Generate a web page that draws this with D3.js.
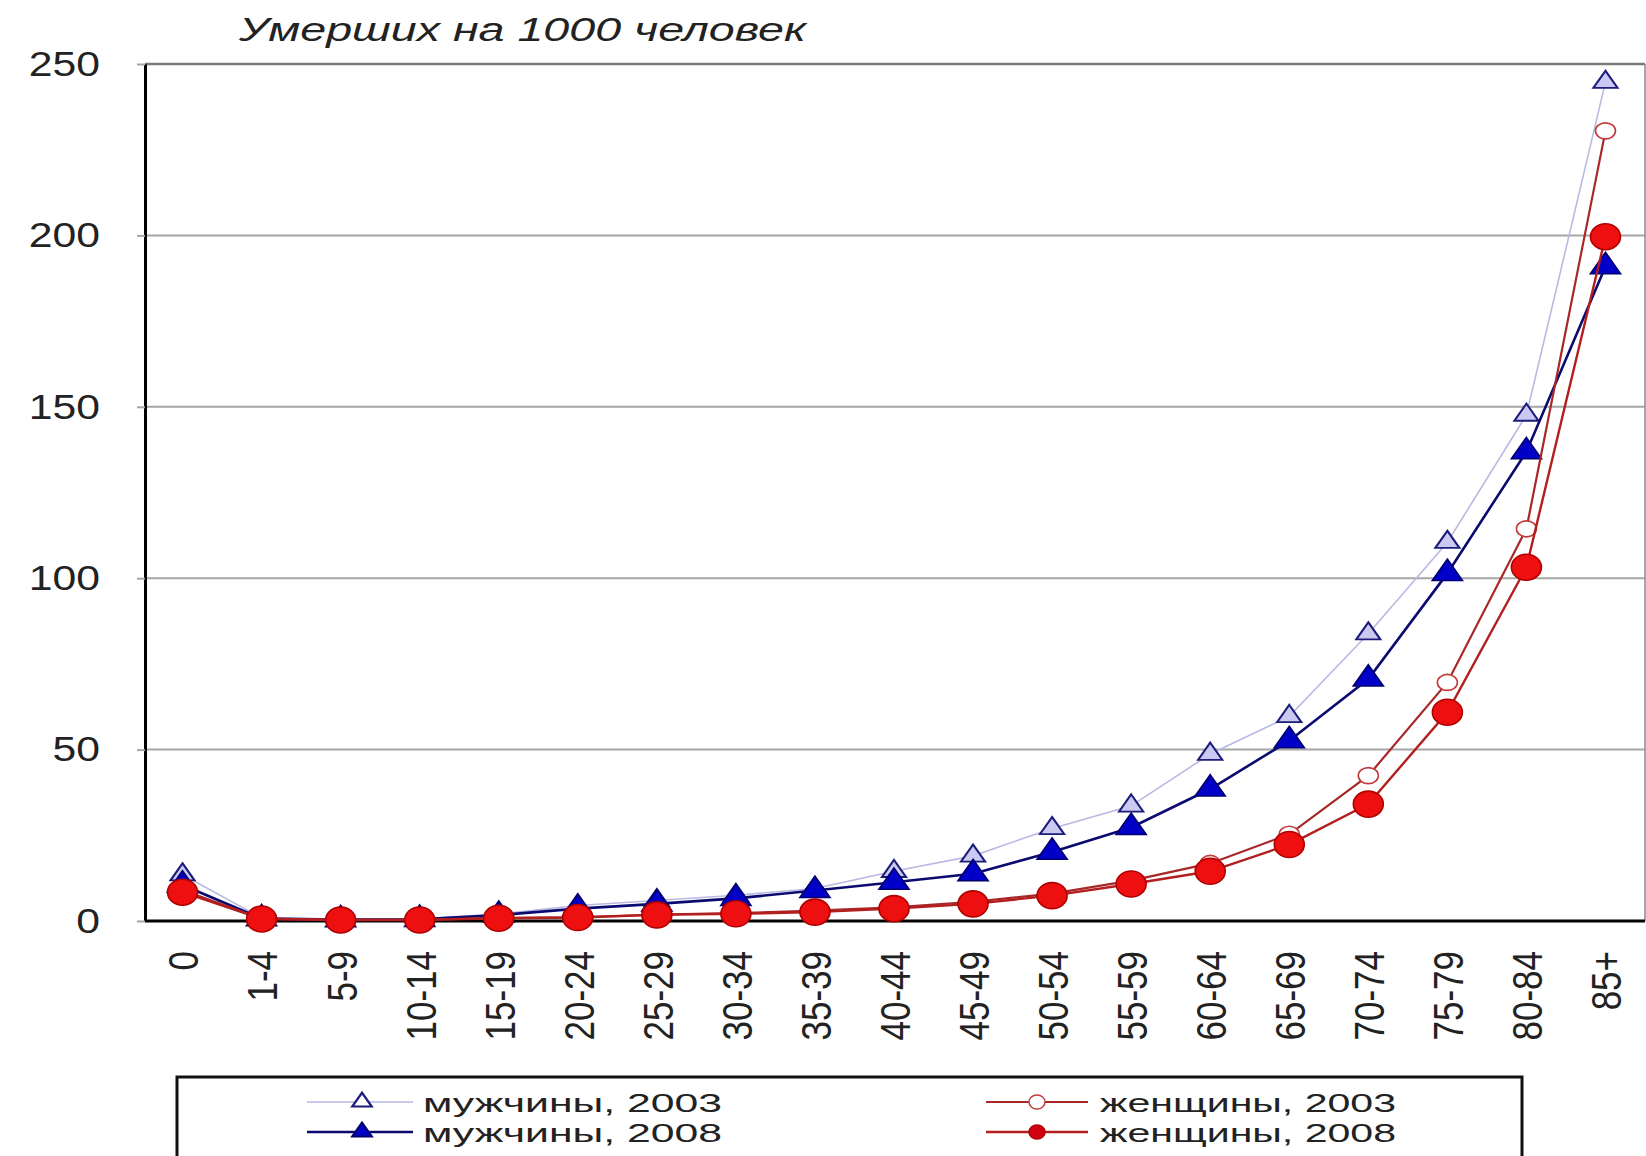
<!DOCTYPE html>
<html>
<head>
<meta charset="utf-8">
<script src="https://cdn.jsdelivr.net/npm/d3@7"></script>
<style>
  body { margin: 0; background: #fff; }
  svg text { font-family: "Liberation Sans", Arial, sans-serif; fill: #1a1a1a; }
</style>
</head>
<body>
<svg id="chart" width="1646" height="1156"></svg>
<script>
// Age groups and death rates per 1000 people
const ages = ["0","1-4","5-9","10-14","15-19","20-24","25-29","30-34","35-39","40-44",
              "45-49","50-54","55-59","60-64","65-69","70-74","75-79","80-84","85+"];
const men2003   = [13.5, 0.9, 0.5, 0.6, 2.0, 4.5, 6.0, 7.5, 9.5, 14.5, 19.0, 27.0, 33.6, 48.7, 59.7, 83.8, 110.5, 147.6, 244.7];
const men2008   = [10.5, 0.7, 0.4, 0.5, 1.7, 3.6, 5.0, 6.6, 8.9, 11.3, 13.8, 20.1, 27.3, 38.5, 52.6, 70.6, 101.4, 136.9, 190.9];
const women2003 = [9.0, 0.7, 0.3, 0.3, 0.9, 1.1, 1.9, 2.3, 3.0, 4.0, 5.6, 8.0, 11.8, 16.8, 25.3, 42.4, 69.6, 114.4, 230.5];
const women2008 = [8.4, 0.6, 0.3, 0.3, 0.8, 1.0, 1.8, 2.1, 2.6, 3.6, 5.0, 7.4, 10.8, 14.5, 22.3, 34.1, 60.9, 103.2, 199.6];
const yTicks = [0, 50, 100, 150, 200, 250];
const seriesNames = ["мужчины, 2003", "мужчины, 2008", "женщины, 2003", "женщины, 2008"];
const axisTitle = "Умерших на 1000 человек";

(function draw() {
const SX = 1.22; // horizontal glyph stretch used throughout the chart

const svg = d3.select("#chart");
const plotLeft = 145, plotRight = 1645, plotTop = 64, plotBottom = 921;

const x = d3.scalePoint().domain(ages).range([143, plotRight]).padding(0.5);
const y = d3.scaleLinear().domain([0, 250]).range([plotBottom, plotTop]);

// gridlines
svg.append("g").selectAll("line")
  .data(yTicks.filter(v => v > 0 && v < 250))
  .join("line")
  .attr("x1", plotLeft).attr("x2", plotRight)
  .attr("y1", d => y(d)).attr("y2", d => y(d))
  .attr("stroke", "#a6a6a6").attr("stroke-width", 2);

// plot frame: top and right edges
svg.append("line").attr("x1", plotLeft).attr("x2", plotRight).attr("y1", y(250)).attr("y2", y(250))
  .attr("stroke", "#7a7a7a").attr("stroke-width", 2.5);
svg.append("line").attr("x1", plotRight).attr("x2", plotRight).attr("y1", y(250)).attr("y2", plotBottom)
  .attr("stroke", "#8a8a8a").attr("stroke-width", 1.5);

// y axis
const yAxis = svg.append("g").attr("transform", `translate(${plotLeft},0)`)
  .call(d3.axisLeft(y).tickValues(yTicks).tickSize(8).tickSizeOuter(0));
yAxis.select(".domain").attr("stroke", "#000").attr("stroke-width", 3);
yAxis.selectAll(".tick line").attr("stroke", "#a6a6a6").attr("stroke-width", 2);
yAxis.selectAll(".tick text")
  .attr("x", -45 / SX).attr("dy", "0.32em")
  .attr("transform", `scale(${SX},1)`)
  .attr("font-size", 35).attr("text-anchor", "end")
  .style("font-family", "'Liberation Sans', Arial, sans-serif").style("fill", "#222");

// x axis
const xAxis = svg.append("g").attr("transform", `translate(0,${plotBottom})`)
  .call(d3.axisBottom(x).tickSize(0).tickSizeOuter(0));
xAxis.select(".domain").attr("stroke", "#000").attr("stroke-width", 3)
  .attr("d", `M${plotLeft},0H${plotRight}`);
xAxis.selectAll(".tick text")
  .attr("x", 0).attr("y", 0).attr("dy", "0.36em")
  .attr("transform", `translate(0,30) scale(${SX},1) rotate(-90)`)
  .attr("text-anchor", "end").attr("font-size", 35)
  .style("font-family", "'Liberation Sans', Arial, sans-serif").style("fill", "#222");

// axis title
svg.append("text").attr("x", 239).attr("y", 41)
  .attr("font-size", 34).attr("font-style", "italic")
  .attr("textLength", 567).attr("lengthAdjust", "spacingAndGlyphs")
  .style("fill", "#222")
  .text(axisTitle);

// series styles
const series = [
  { name: seriesNames[0], values: men2003, line: "#b9b9e4", lw: 1.6,
    shape: "tri", size: 170, fill: "#c9c9f2", stroke: "#1c1c7a", sw: 1.8 },
  { name: seriesNames[1], values: men2008, line: "#0a0a70", lw: 2.6,
    shape: "tri", size: 262, fill: "#0000c8", stroke: "#000070", sw: 1.5 },
  { name: seriesNames[2], values: women2003, line: "#a8282a", lw: 2.2,
    shape: "circ", rx: 10, ry: 8, fill: "#ffffff", stroke: "#c23a3a", sw: 1.6 },
  { name: seriesNames[3], values: women2008, line: "#b31e1e", lw: 2.4,
    shape: "circ", rx: 15, ry: 13, fill: "#ee1010", stroke: "#b00000", sw: 1.6 }
];

const line = d3.line().x((d, i) => x(ages[i])).y(d => y(d));

series.forEach(s => {
  const g = svg.append("g");
  g.append("path").datum(s.values).attr("d", line)
    .attr("fill", "none").attr("stroke", s.line).attr("stroke-width", s.lw);
  if (s.shape === "tri") {
    g.selectAll("path.m").data(s.values).join("path").attr("class", "m")
      .attr("d", d3.symbol().type(d3.symbolTriangle).size(s.size)())
      .attr("transform", (d, i) => `translate(${x(ages[i])},${y(d)}) scale(${SX},1)`)
      .attr("fill", s.fill).attr("stroke", s.stroke).attr("stroke-width", s.sw);
  } else {
    g.selectAll("ellipse").data(s.values).join("ellipse")
      .attr("cx", (d, i) => x(ages[i])).attr("cy", d => y(d))
      .attr("rx", s.rx).attr("ry", s.ry)
      .attr("fill", s.fill).attr("stroke", s.stroke).attr("stroke-width", s.sw);
  }
});

// legend
const legend = svg.append("g");
legend.append("rect").attr("x", 177).attr("y", 1077).attr("width", 1345).attr("height", 120)
  .attr("fill", "#fff").attr("stroke", "#111").attr("stroke-width", 3);

const legendPos = [
  { lx1: 307, lx2: 413, mx: 362, tx: 423, tw: 299, cy: 1102 },
  { lx1: 307, lx2: 413, mx: 362, tx: 423, tw: 299, cy: 1132 },
  { lx1: 986, lx2: 1088, mx: 1037, tx: 1100, tw: 296, cy: 1102 },
  { lx1: 986, lx2: 1088, mx: 1037, tx: 1100, tw: 296, cy: 1132 }
];

series.forEach((s, k) => {
  const p = legendPos[k];
  const g = legend.append("g");
  g.append("line").attr("x1", p.lx1).attr("x2", p.lx2).attr("y1", p.cy).attr("y2", p.cy)
    .attr("stroke", s.line).attr("stroke-width", s.lw);
  if (s.shape === "tri") {
    g.append("path").attr("d", d3.symbol().type(d3.symbolTriangle).size(110)())
      .attr("transform", `translate(${p.mx},${p.cy}) scale(${SX},1)`)
      .attr("fill", k === 0 ? "#ffffff" : s.fill).attr("stroke", s.stroke).attr("stroke-width", 2);
  } else {
    g.append("ellipse").attr("cx", p.mx).attr("cy", p.cy).attr("rx", 8).attr("ry", 7)
      .attr("fill", k === 2 ? "#ffffff" : "#d00010").attr("stroke", s.stroke).attr("stroke-width", 1.5);
  }
  g.append("text").attr("x", p.tx).attr("y", p.cy + 10)
    .attr("font-size", 26)
    .attr("textLength", p.tw).attr("lengthAdjust", "spacingAndGlyphs")
    .style("fill", "#222")
    .text(s.name);
});
})();
</script>
</body>
</html>
